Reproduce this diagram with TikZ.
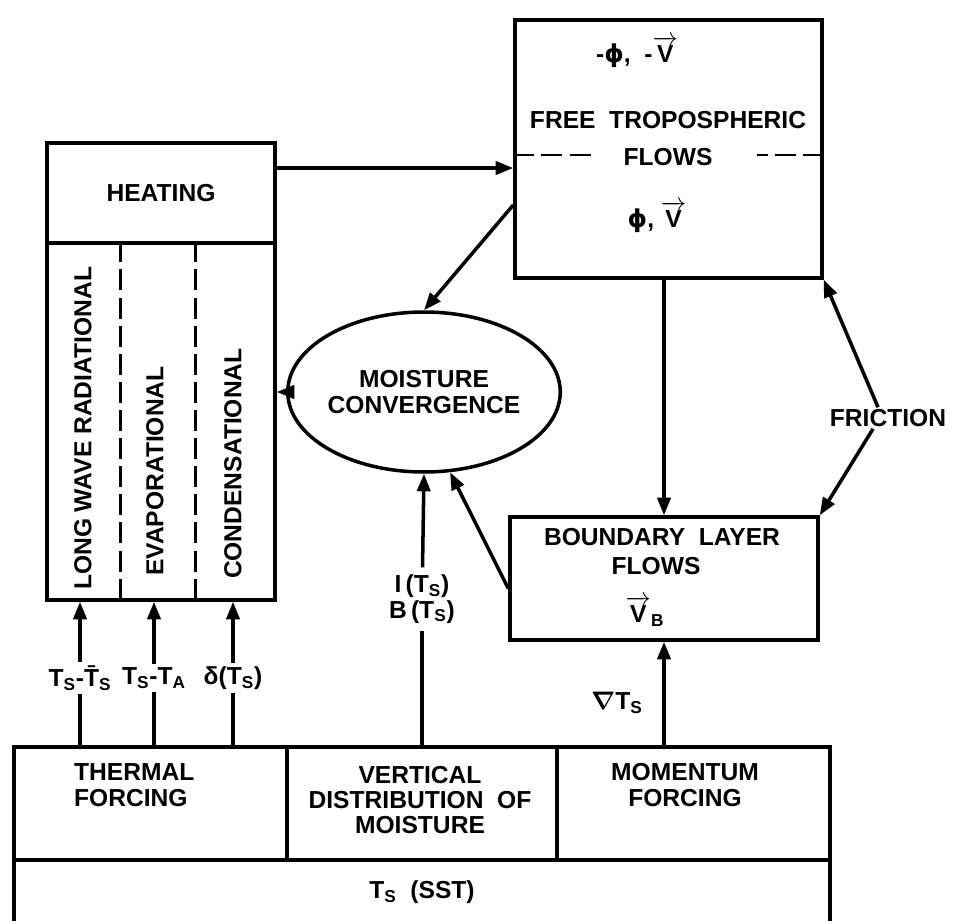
\documentclass[tikz,border=0pt]{standalone}
\usepackage{amsmath,bm}
\usepackage{fontspec}
\setmainfont{Liberation Sans}
\newfontfamily\grk{DejaVu Sans}
\usetikzlibrary{arrows.meta,shapes.geometric,calc}
\newcommand{\vecV}{$\overrightarrow{\mbox{V}}$}
\newcommand{\Ts}{T\textsubscript{S}}
\newcommand{\phis}{{\grk\bfseries ϕ}}

\begin{document}
\begin{tikzpicture}[
  x=0.02cm, y=-0.02cm,
  font=\fontsize{14}{14.5}\selectfont\bfseries,
  box/.style={draw,line width=2pt,inner sep=0pt},
  txt/.style={inner sep=1pt,align=center},
  dline/.style={line width=1.6pt,dash pattern=on 12pt off 4pt},
  link/.style={line width=2pt},
  arr/.style={-{Triangle[length=10pt,width=7.5pt]},line width=2pt}
]
\useasboundingbox (0,0) rectangle (953,920);

\node[box,minimum width=4.56cm,minimum height=2cm] (heat) at (161,193) {HEATING};
\node[box,minimum width=4.56cm,minimum height=7.14cm] (heatparts) at (161,421.5) {};
\node[txt,rotate=90,anchor=west] (lwr) at (83,592) {LONG\ WAVE\ RADIATIONAL};
\node[txt,rotate=90,anchor=west] (evap) at (155,578) {EVAPORATIONAL};
\node[txt,rotate=90,anchor=west] (cond) at (233,581) {CONDENSATIONAL};
\draw[dline] ([xshift=1.5cm]heatparts.north west) -- ([xshift=1.5cm]heatparts.south west);
\draw[dline] ([xshift=3cm]heatparts.north west) -- ([xshift=3cm]heatparts.south west);

\node[box,minimum width=6.14cm,minimum height=5.16cm] (free) at (668.5,149) {};
\node[txt] (fneg) at (637,52) {-\phis,\ \ -\vecV};
\node[txt] (fname) at (668,120) {FREE\ \ TROPOSPHERIC};
\node[txt] (fflows) at (668,157) {FLOWS};
\node[txt] (fpos) at (657,217) {\phis, \vecV};
\draw[dline] ([yshift=-0.12cm]free.west) -- ++(82,0);
\draw[dline] ([yshift=-0.12cm]free.east) -- ++(-67,0);

\node[box,ellipse,minimum width=4.48cm,minimum height=3.2cm,align=center] (moist) at (424,392) {MOISTURE\\CONVERGENCE};

\node[box,minimum width=6.16cm,minimum height=2.46cm] (bl) at (664,578.5) {};
\node[txt] (blname) at (662,537) {BOUNDARY\ \ LAYER};
\node[txt] (blflows) at (656,566) {FLOWS};
\node[txt] (blv) at (645,611) {\vecV\textsubscript{B}};

\node[txt] (fric) at (888,418) {FRICTION};

\node[box,minimum width=5.46cm,minimum height=2.26cm] (therm) at (150.5,803.5) {};
\node[box,minimum width=5.4cm,minimum height=2.26cm] (vert) at (422,803.5) {};
\node[box,minimum width=5.46cm,minimum height=2.26cm] (mom) at (693.5,803.5) {};
\node[box,minimum width=16.32cm,minimum height=1.3cm] (sst) at (422,892.5) {\Ts\ \ (SST)};
\node[txt,align=left,anchor=west] (thermtxt) at (72,785) {THERMAL\\FORCING};
\node[txt] (verttxt) at (420,800) {VERTICAL\\DISTRIBUTION\ \ OF\\MOISTURE};
\node[txt] (momtxt) at (685,785) {MOMENTUM\\FORCING};

\node[txt,inner sep=2pt] (tsa) at (80,678) {\Ts-\={T}\textsubscript{S}};
\node[txt,inner sep=2pt] (tsb) at (154,678) {\Ts-T\textsubscript{A}};
\node[txt,inner sep=2pt] (tsc) at (233,678) {δ(\Ts)};
\node[txt,inner sep=4pt] (ib) at (422,599) {I\,(\Ts)\\B\,(\Ts)};
\node[txt] (gradt) at (617,703) {$\bm{\nabla}$\Ts};

\draw[arr] ([yshift=0.5cm]heat.east) -- ([yshift=0.5cm]heat.east -| free.west);
\draw[arr] ([yshift=-1.12cm]free.west) -- (moist.north);
\draw[arr] (moist.west) -- (moist.west -| heatparts.east);
\draw[arr] (free.south -| bl.north) -- (bl.north);
\draw[arr] ([yshift=-0.2cm]bl.west) -- (moist.-72);
\draw[arr] ([xshift=-0.2cm]fric.north) -- (free.south east);
\draw[arr] ([xshift=-0.3cm]fric.south) -- (bl.north east);
\draw[link] (tsa |- therm.north) -- (tsa); \draw[arr] (tsa) -- (tsa |- heatparts.south);
\draw[link] (tsb |- therm.north) -- (tsb); \draw[arr] (tsb) -- (tsb |- heatparts.south);
\draw[link] (tsc |- therm.north) -- (tsc); \draw[arr] (tsc) -- (tsc |- heatparts.south);
\draw[link] (vert.north) -- (ib); \draw[arr] (ib) -- (moist.south);
\draw[arr] (bl.south |- mom.north) -- (bl.south);
\end{tikzpicture}
\end{document}
